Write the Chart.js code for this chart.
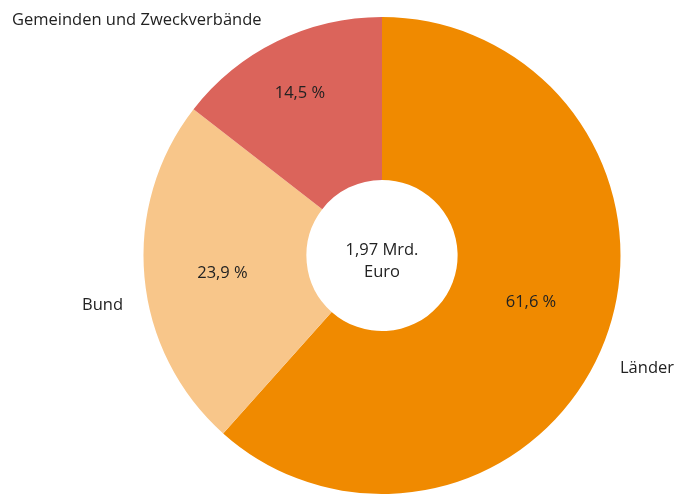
<!DOCTYPE html>
<html>
<head>
<meta charset="utf-8">
<script src="https://cdn.jsdelivr.net/npm/chart.js@4"></script>
<style>
  html, body { margin: 0; padding: 0; background: #fff; }
  #wrap { width: 678px; height: 494px; position: relative; }
</style>
</head>
<body>
<div id="wrap"><canvas id="shareChart"></canvas></div>
<script>
// data
const categories = ['Länder', 'Bund', 'Gemeinden und Zweckverbände'];
const shares = [61.6, 23.9, 14.5];
const sliceColors = ['#f08a00', '#f8c68a', '#db645b'];
const centerLines = ['1,97 Mrd.', 'Euro'];

const FONT = '"Open Sans", sans-serif';
const TEXT = '#222';

// where the category names sit, and where the percent labels go
const nameSpots = [
    { x: 620, y: 368, align: 'left' },
    { x: 123, y: 305, align: 'right' },
    { x: 12, y: 20, align: 'left' }
];
const pctRadius = [0.655, 0.673, 0.763];
const pctTurn = [-3.4, -1.1, -0.7]; // degrees

const fmt = v => v.toFixed(1).replace('.', ',') + ' %';

const labelPlugin = {
    id: 'labels',
    afterDraw(chart) {
        const ctx = chart.ctx;
        const arcs = chart.getDatasetMeta(0).data;
        ctx.save();
        ctx.fillStyle = TEXT;
        ctx.font = '16.5px ' + FONT;
        ctx.textBaseline = 'middle';

        arcs.forEach((arc, i) => {
            const mid = (arc.startAngle + arc.endAngle) / 2 + pctTurn[i] * Math.PI / 180;
            const r = arc.outerRadius * pctRadius[i];
            ctx.textAlign = 'center';
            ctx.fillText(fmt(shares[i]), arc.x + Math.cos(mid) * r, arc.y + Math.sin(mid) * r);

            const s = nameSpots[i];
            ctx.textAlign = s.align;
            ctx.fillText(categories[i], s.x, s.y);
        });

        const a = arcs[0];
        ctx.textAlign = 'center';
        ctx.fillText(centerLines[0], a.x, a.y - 5.5);
        ctx.fillText(centerLines[1], a.x, a.y + 16.5);
        ctx.restore();
    }
};

new Chart(document.getElementById('shareChart'), {
    type: 'doughnut',
    data: {
        labels: categories,
        datasets: [{
            data: shares,
            backgroundColor: sliceColors,
            borderWidth: 0
        }]
    },
    options: {
        responsive: true,
        maintainAspectRatio: false,
        animation: false,
        cutout: '31.7%',
        layout: { padding: { left: 143, right: 57, top: 17, bottom: 0 } },
        plugins: {
            legend: { display: false },
            tooltip: { enabled: false }
        }
    },
    plugins: [labelPlugin]
});
</script>
</body>
</html>
